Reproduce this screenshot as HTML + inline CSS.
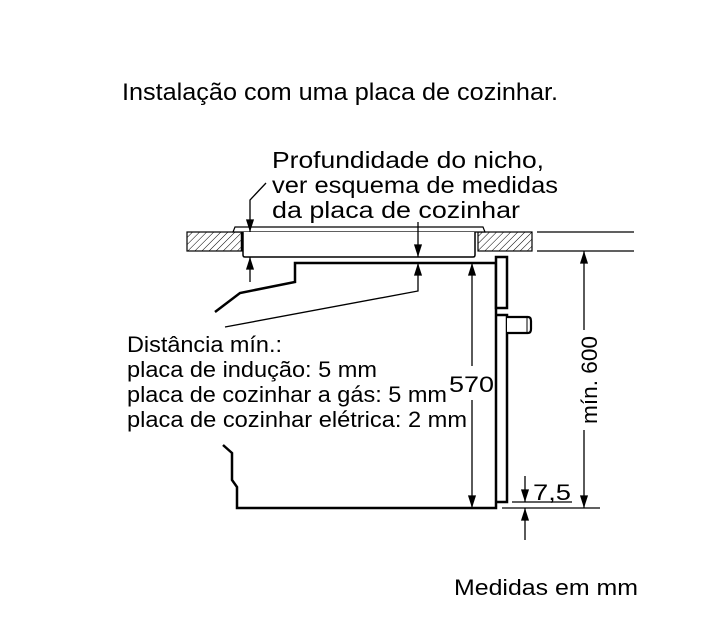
<!DOCTYPE html>
<html><head><meta charset="utf-8"><style>
html,body{margin:0;padding:0;background:#fff;}
svg{display:block;}
text{font-family:"Liberation Sans",Arial,sans-serif;fill:#000;}
</style></head><body>
<svg width="728" height="630" viewBox="0 0 728 630" xmlns="http://www.w3.org/2000/svg">
<defs>
<pattern id="h" width="5" height="5" patternUnits="userSpaceOnUse" patternTransform="rotate(45)">
<line x1="0" y1="0" x2="0" y2="5" stroke="#000" stroke-width="1"/>
</pattern>
<marker id="a" viewBox="0 0 14 10" refX="14" refY="5" markerWidth="13" markerHeight="9" markerUnits="userSpaceOnUse" orient="auto">
<path d="M0,0.5 L14,5 L0,9.5 z" fill="#000"/>
</marker>
</defs>
<text x="122" y="100" font-size="24" textLength="436" lengthAdjust="spacingAndGlyphs">Instalação com uma placa de cozinhar.</text>
<text x="272" y="168" font-size="23.5" textLength="272" lengthAdjust="spacingAndGlyphs">Profundidade do nicho,</text>
<text x="272" y="193" font-size="23.5" textLength="286" lengthAdjust="spacingAndGlyphs">ver esquema de medidas</text>
<text x="272" y="218" font-size="23.5" textLength="248" lengthAdjust="spacingAndGlyphs">da placa de cozinhar</text>

<text x="127" y="352" font-size="22" textLength="155" lengthAdjust="spacingAndGlyphs">Distância mín.:</text>
<text x="127" y="377" font-size="22" textLength="250" lengthAdjust="spacingAndGlyphs">placa de indução: 5 mm</text>
<text x="127" y="402" font-size="22" textLength="320" lengthAdjust="spacingAndGlyphs">placa de cozinhar a gás: 5 mm</text>
<text x="127" y="427" font-size="22" textLength="340" lengthAdjust="spacingAndGlyphs">placa de cozinhar elétrica: 2 mm</text>
<text x="449" y="392" font-size="22" textLength="45" lengthAdjust="spacingAndGlyphs">570</text>
<text x="533" y="500" font-size="22" textLength="38" lengthAdjust="spacingAndGlyphs">7,5</text>
<text transform="translate(597,380) rotate(-90)" font-size="22" text-anchor="middle" textLength="88" lengthAdjust="spacingAndGlyphs">mín. 600</text>
<text x="454" y="595" font-size="22" textLength="184" lengthAdjust="spacingAndGlyphs">Medidas em mm</text>

<!-- countertop -->
<rect x="187" y="232" width="55" height="19" fill="url(#h)" stroke="#000" stroke-width="1.2"/>
<rect x="478" y="232" width="54" height="19" fill="url(#h)" stroke="#000" stroke-width="1.2"/>
<line x1="537" y1="232" x2="634" y2="232" stroke="#000" stroke-width="1.2"/>
<line x1="537" y1="251" x2="634" y2="251" stroke="#000" stroke-width="1.2"/>
<!-- hob -->
<path d="M233,232 L235,227 L483,227 L485,232 Z" fill="#fff" stroke="#000" stroke-width="1.2"/>
<path d="M243,232 L243,255 Q243,257 245,257 L473,257 Q475,257 475,255 L475,232" fill="#fff" stroke="#000" stroke-width="1.5"/>
<line x1="242" y1="232" x2="242" y2="251" stroke="#000" stroke-width="2.5"/>
<!-- oven -->
<path d="M215,312 L240,293 L295,282 L295,263 L496,263 L496,508 L237,508 L237,487 L232,480 L232,453 L223,445" fill="none" stroke="#000" stroke-width="2.5" stroke-linejoin="miter"/>
<!-- door -->
<path d="M496,502 L507,502 L507,315 L496,315" fill="none" stroke="#000" stroke-width="2.5"/>
<line x1="496" y1="315" x2="496" y2="508" stroke="#000" stroke-width="1"/>
<rect x="496" y="257" width="11" height="51" fill="#fff" stroke="#000" stroke-width="2.5"/>
<path d="M507,317 L528,317 Q531,317 531,321 L531,329 Q531,333 528,333 L507,333" fill="#fff" stroke="#000" stroke-width="2.2"/>
<line x1="527" y1="318" x2="527" y2="332" stroke="#000" stroke-width="1"/>

<!-- arrows -->
<g stroke="#000" stroke-width="1.3" fill="none">
<polyline points="266,183 250,200 250,232" marker-end="url(#a)"/>
<line x1="418" y1="222" x2="418" y2="257" marker-end="url(#a)"/>
<polyline points="225,327 418,291 418,263" marker-end="url(#a)"/>
<line x1="250" y1="282" x2="250" y2="257" marker-end="url(#a)"/>
<line x1="472" y1="366" x2="472" y2="263" marker-end="url(#a)"/>
<line x1="472" y1="400" x2="472" y2="508" marker-end="url(#a)"/>
<line x1="584" y1="330" x2="584" y2="251" marker-end="url(#a)"/>
<line x1="584" y1="430" x2="584" y2="508" marker-end="url(#a)"/>
<line x1="525" y1="476" x2="525" y2="502" marker-end="url(#a)"/>
<line x1="525" y1="540" x2="525" y2="508" marker-end="url(#a)"/>
<line x1="512" y1="502" x2="572" y2="502"/>
<line x1="502" y1="508" x2="600" y2="508"/>
</g>
</svg>
</body></html>
